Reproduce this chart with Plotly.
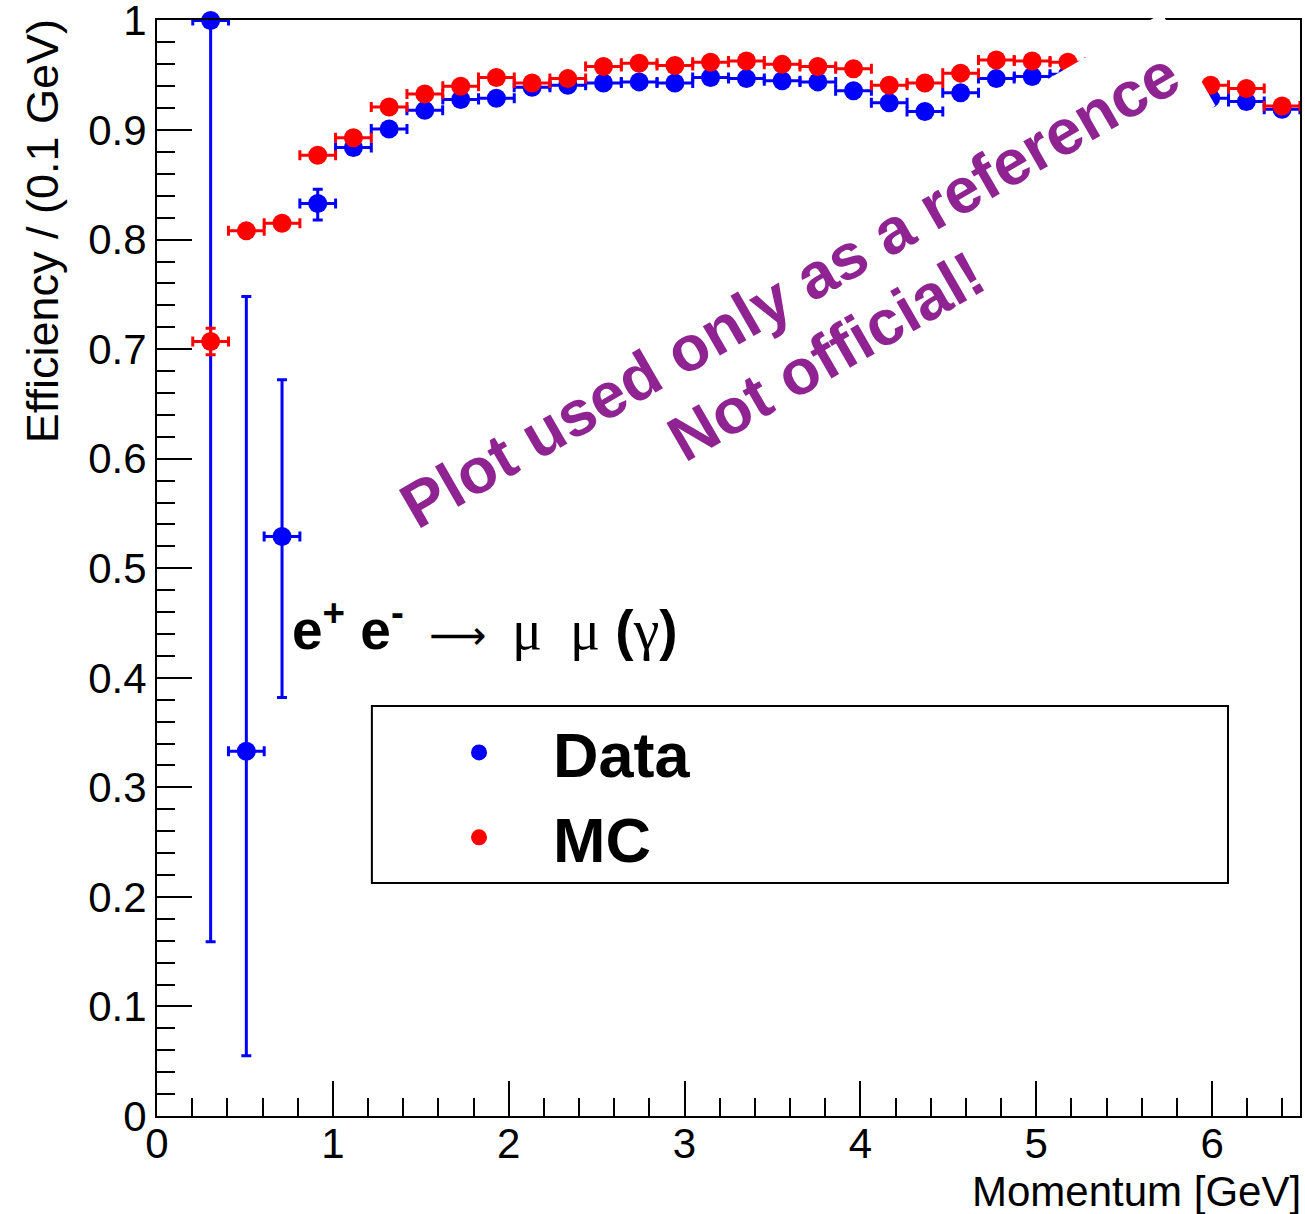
import plotly.graph_objects as go

# Momentum bins: 32 bins over 0-6.5 GeV, first bin empty
p_center = [0.305, 0.508, 0.711, 0.914, 1.117, 1.320, 1.523, 1.727, 1.930, 2.133,
            2.336, 2.539, 2.742, 2.945, 3.148, 3.352, 3.555, 3.758, 3.961, 4.164,
            4.367, 4.570, 4.773, 4.977, 5.180, 5.383, 5.586, 5.789, 5.992, 6.195, 6.398]
p_halfwidth = 0.1016

# Data efficiency with asymmetric errors
eff_data = [1.000, 0.333, 0.529, 0.833, 0.884, 0.901, 0.918, 0.928, 0.929, 0.939,
            0.941, 0.943, 0.944, 0.943, 0.948, 0.947, 0.945, 0.944, 0.936, 0.925,
            0.917, 0.934, 0.947, 0.949, 0.951, 0.947, 0.943, 0.937, 0.929, 0.926, 0.919]
err_data_up = [0.000, 0.415, 0.143, 0.013, 0.006, 0.005, 0.005, 0.005, 0.005, 0.004,
               0.004, 0.004, 0.004, 0.004, 0.004, 0.004, 0.004, 0.004, 0.004, 0.005,
               0.005, 0.005, 0.005, 0.005, 0.005, 0.005, 0.005, 0.006, 0.006, 0.006, 0.006]
err_data_dn = [0.841, 0.278, 0.147, 0.015, 0.006, 0.005, 0.005, 0.005, 0.005, 0.004,
               0.004, 0.004, 0.004, 0.004, 0.004, 0.004, 0.004, 0.004, 0.004, 0.005,
               0.005, 0.005, 0.005, 0.005, 0.005, 0.005, 0.005, 0.006, 0.006, 0.006, 0.006]

# Simulation efficiency
eff_mc = [0.707, 0.808, 0.815, 0.877, 0.893, 0.921, 0.933, 0.940, 0.948, 0.943,
          0.947, 0.958, 0.961, 0.959, 0.962, 0.963, 0.960, 0.958, 0.956, 0.941,
          0.943, 0.952, 0.964, 0.963, 0.962, 0.958, 0.955, 0.950, 0.941, 0.938, 0.922]
err_mc = [0.012, 0.004, 0.004, 0.003, 0.003, 0.003, 0.003, 0.003, 0.003, 0.003,
          0.003, 0.003, 0.003, 0.003, 0.003, 0.003, 0.003, 0.003, 0.003, 0.003,
          0.003, 0.003, 0.003, 0.003, 0.003, 0.003, 0.003, 0.003, 0.003, 0.003, 0.003]

x_ticks = [0, 1, 2, 3, 4, 5, 6]
y_ticks = [0, 0.1, 0.2, 0.3, 0.4, 0.5, 0.6, 0.7, 0.8, 0.9, 1]
y_tick_text = ["0", "0.1", "0.2", "0.3", "0.4", "0.5", "0.6", "0.7", "0.8", "0.9", "1"]

FONT = "Liberation Sans"
BLUE = "#0000ff"
RED = "#ff0000"
PURPLE = "#8e2391"

fig = go.Figure()

fig.add_trace(go.Scatter(
    x=p_center, y=eff_data, mode="markers", name="<b>Data</b>",
    marker=dict(color=BLUE, size=19, symbol="circle"),
    error_x=dict(type="constant", value=p_halfwidth, color=BLUE, thickness=3, width=5),
    error_y=dict(type="data", array=err_data_up, arrayminus=err_data_dn, symmetric=False,
                 color=BLUE, thickness=3, width=5),
    cliponaxis=False,
))
fig.add_trace(go.Scatter(
    x=p_center, y=eff_mc, mode="markers", name="<b>MC</b>",
    marker=dict(color=RED, size=19, symbol="circle"),
    error_x=dict(type="constant", value=p_halfwidth, color=RED, thickness=3, width=5),
    error_y=dict(type="data", array=err_mc, color=RED, thickness=3, width=5),
    cliponaxis=False,
))

axis_common = dict(
    showgrid=False, zeroline=False, showline=True, linecolor="black", linewidth=2,
    mirror=True, ticks="inside", tickcolor="black", tickwidth=2, ticklen=35,
    tickfont=dict(family=FONT, size=42, color="black"), ticklabeloverflow="allow",
    automargin=False,
)

fig.update_xaxes(range=[0, 6.5], tickmode="array", tickvals=x_ticks,
                 ticktext=[str(t) for t in x_ticks], ticklabelstandoff=-10,
                 minor=dict(dtick=0.2, tick0=0, ticks="inside", ticklen=18, tickwidth=2,
                            tickcolor="black"),
                 **axis_common)
fig.update_yaxes(range=[0, 1.0005], tickmode="array", tickvals=y_ticks, ticktext=y_tick_text,
                 minor=dict(dtick=0.02, tick0=0, ticks="inside", ticklen=18, tickwidth=2,
                            tickcolor="black"),
                 **axis_common)

# legend frame
fig.add_shape(type="rect", xref="paper", yref="paper",
              x0=0.188, x1=0.937, y0=0.2126, y1=0.374,
              line=dict(color="black", width=2), fillcolor="white", layer="below")

annotations = [
    # axis titles
    dict(text="Momentum [GeV]", xref="paper", yref="paper", x=1.003, y=-0.046,
         xanchor="right", yanchor="top", showarrow=False,
         font=dict(family=FONT, size=42, color="black")),
    dict(text="Efficiency / (0.1 GeV)", xref="paper", yref="paper", x=-0.100, y=0.807,
         xanchor="center", yanchor="middle", textangle=-90, showarrow=False,
         font=dict(family=FONT, size=45, color="black")),
    # process label
    dict(text="<b>e<sup>+</sup> e<sup>-</sup></b>"
              "<span style='font-family:DejaVu Sans;font-size:40px'>  \u27f6  </span>"
              "<span style='font-family:Liberation Serif;font-size:56px'>\u03bc  \u03bc</span> "
              "<b>(</b><span style='font-family:Liberation Serif;font-size:58px'>\u03b3</span><b>)</b>",
         x=0.756, y=0.447, xanchor="left", yanchor="middle", showarrow=False,
         font=dict(family=FONT, size=55, color="black")),
    # watermark
    dict(text="<b>Plot used only as a reference</b>", x=3.597, y=0.754,
         xanchor="center", yanchor="middle", textangle=-30, showarrow=False,
         bgcolor="white", borderpad=17,
         font=dict(family=FONT, size=64, color=PURPLE)),
    dict(text="<b>Not official!</b>", x=3.807, y=0.694,
         xanchor="center", yanchor="middle", textangle=-30, showarrow=False,
         font=dict(family=FONT, size=64, color=PURPLE)),
]

fig.update_layout(
    width=1305, height=1214,
    margin=dict(l=157, r=5, t=20, b=98, autoexpand=False),
    paper_bgcolor="white", plot_bgcolor="white",
    annotations=annotations,
    showlegend=True,
    legend=dict(x=0.217, y=0.375, xanchor="left", yanchor="top",
                bgcolor="rgba(0,0,0,0)", borderwidth=0, itemwidth=138,
                font=dict(family=FONT, size=63, color="black"),
                tracegroupgap=0),
)

fig.write_html("out.html")
